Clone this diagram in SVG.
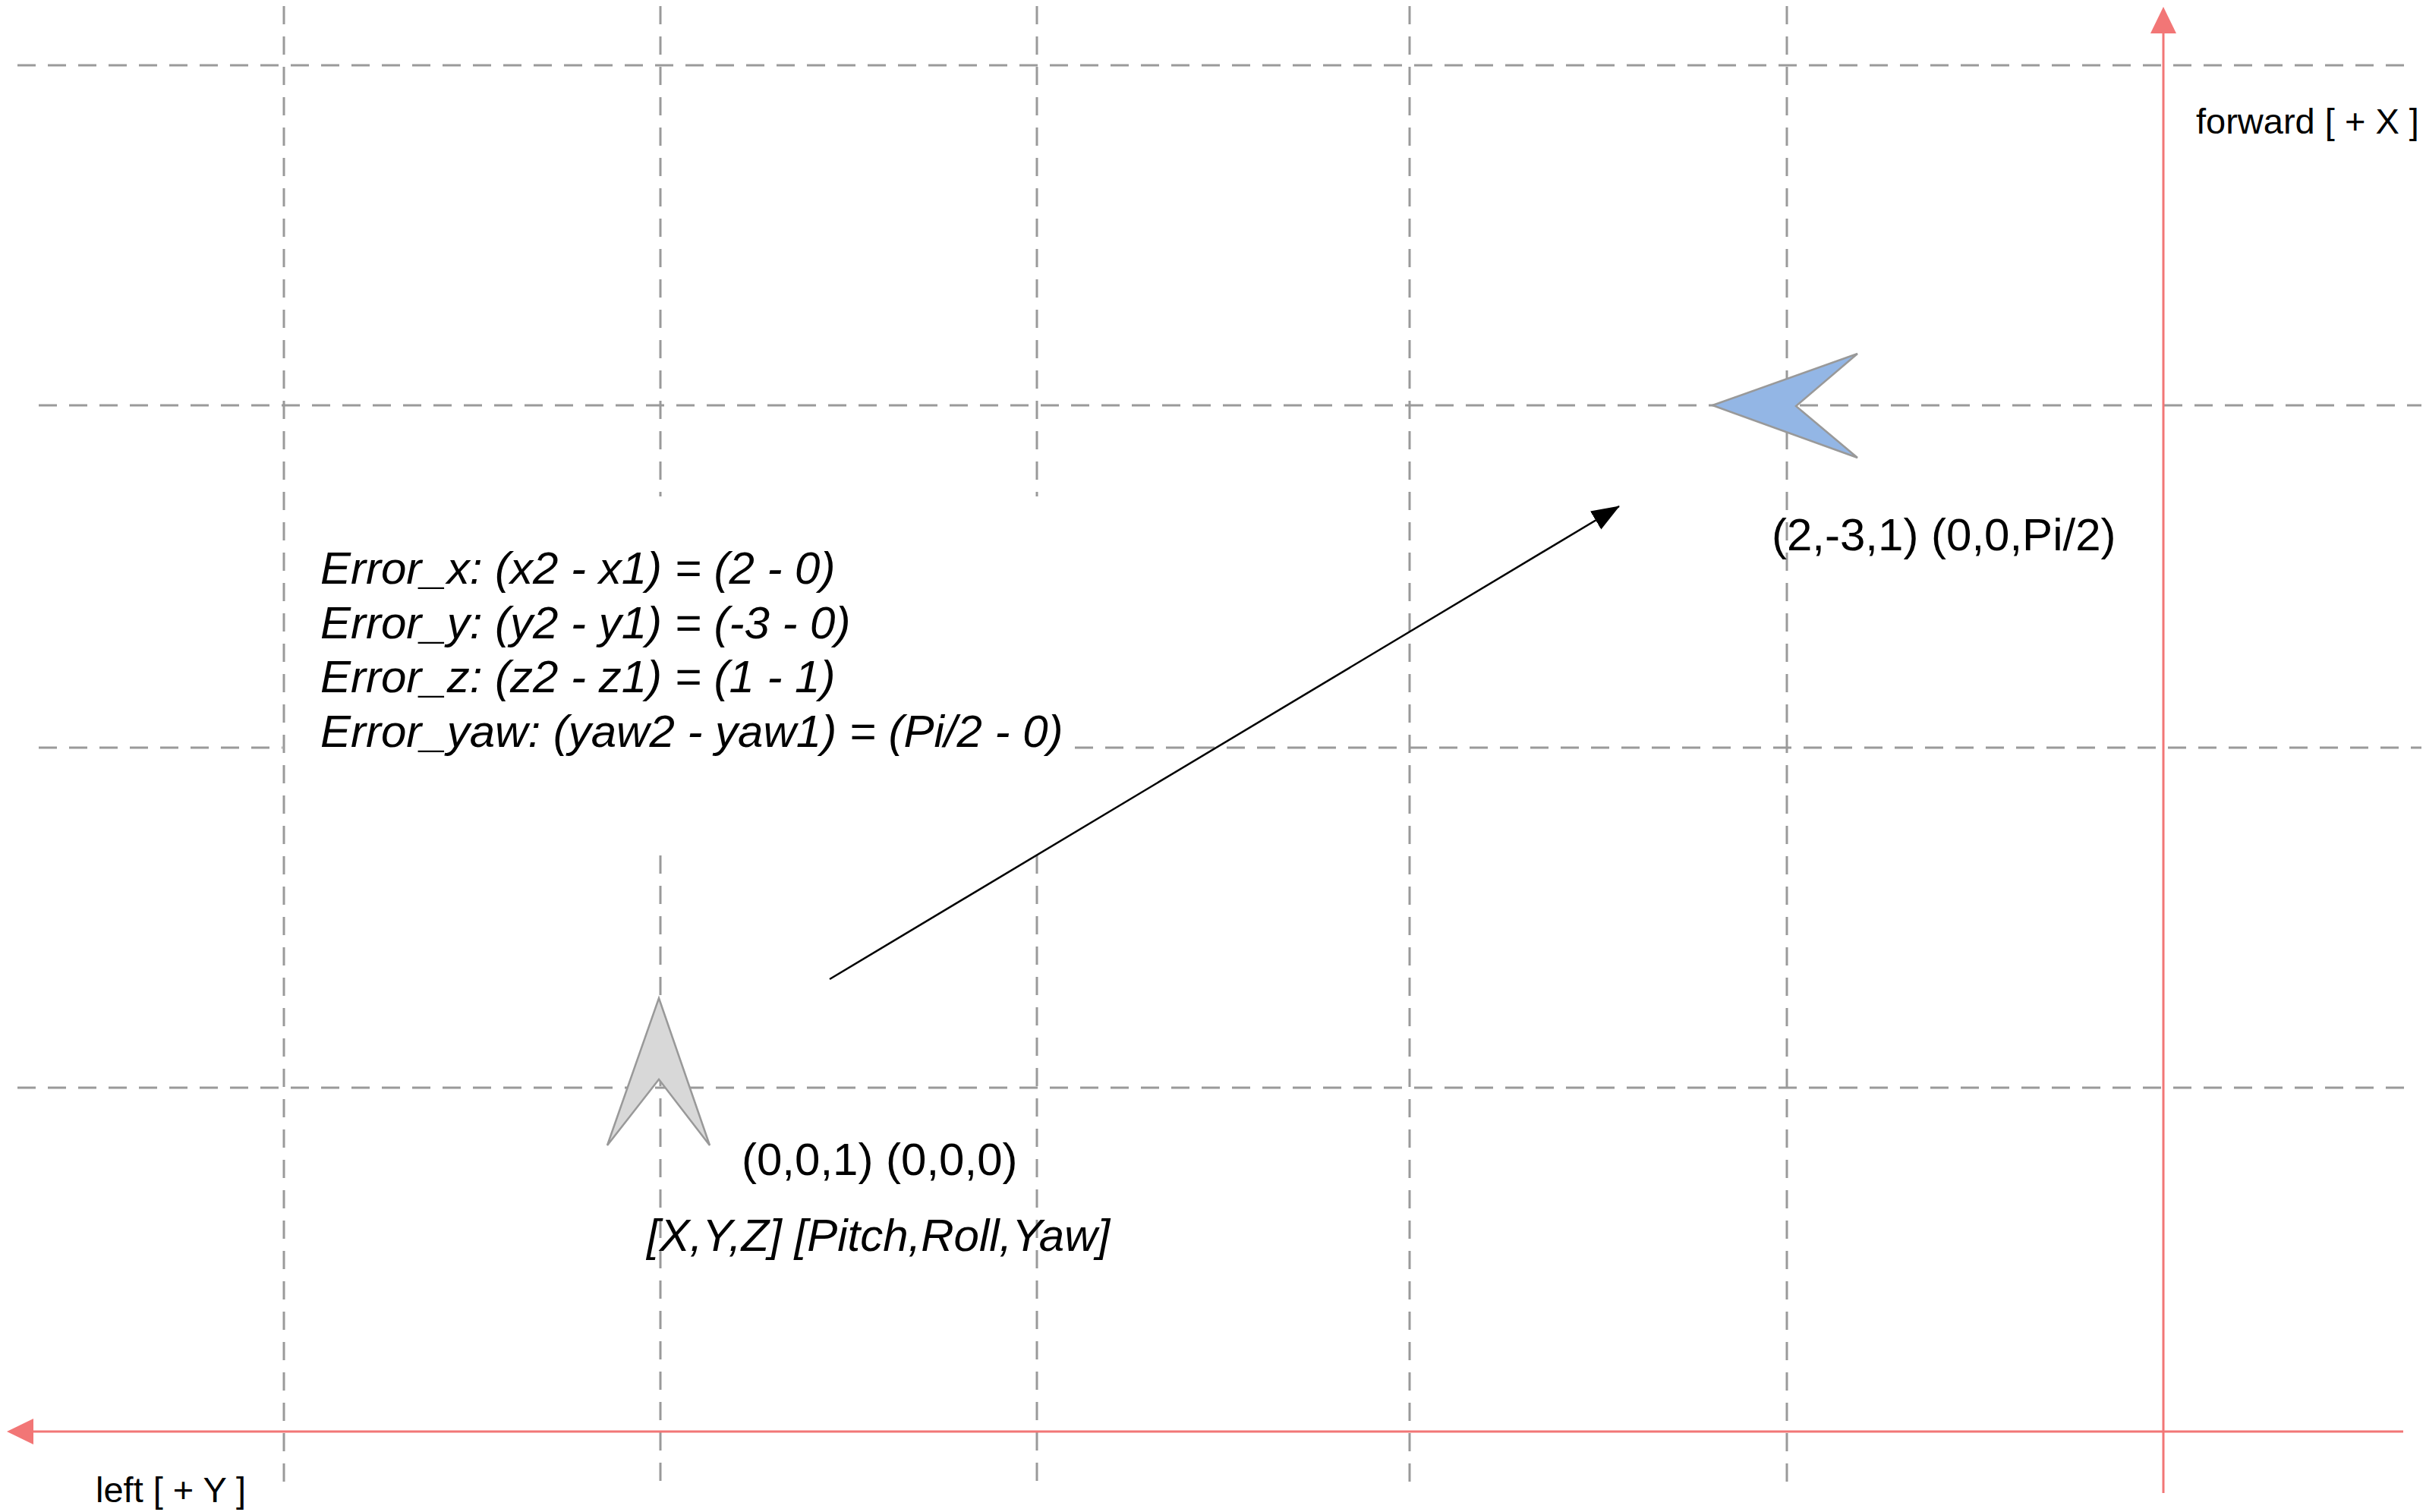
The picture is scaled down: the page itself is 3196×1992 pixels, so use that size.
<svg xmlns="http://www.w3.org/2000/svg" width="3196" height="1992" viewBox="0 0 3196 1992">
  <style>
    .grid { stroke: #9a9a9a; stroke-width: 3; stroke-dasharray: 24 16; fill: none; }
    .axis { stroke: #F27676; stroke-width: 3; fill: none; }
    .conn { stroke: #000; stroke-width: 2.5; fill: none; }
    .t { font-family: "Liberation Sans", Arial, Helvetica, sans-serif; fill: #000; }
    .lbl { font-size: 60px; }
    .ital { font-size: 60px; font-style: italic; }
    .ax { font-size: 47px; }
    .shape { stroke: #999; stroke-width: 2.5; stroke-linejoin: miter; }
  </style>
  <defs>
    <marker id="redHead" markerUnits="userSpaceOnUse" markerWidth="36" markerHeight="36" viewBox="0 0 36 36" refX="2" refY="18" orient="auto">
      <path d="M0,1 L35,18 L0,35 z" fill="#F27676"/>
    </marker>
    <marker id="blackHead" markerUnits="userSpaceOnUse" markerWidth="38" markerHeight="30" viewBox="0 0 38 30" refX="36" refY="15" orient="auto">
      <path d="M0,1 L37,15 L0,29 z" fill="#000"/>
    </marker>
  </defs>
  <rect width="3196" height="1992" fill="#fff"/>

  <g id="grid">
    <line class="grid" x1="23" y1="86" x2="3169" y2="86"/>
    <line class="grid" x1="51" y1="534" x2="3190" y2="534"/>
    <line class="grid" x1="51" y1="985" x2="372" y2="985"/>
    <line class="grid" x1="1416" y1="985" x2="3190" y2="985"/>
    <line class="grid" x1="23" y1="1433" x2="3169" y2="1433"/>

    <line class="grid" x1="374" y1="8" x2="374" y2="1953"/>
    <line class="grid" x1="870" y1="8" x2="870" y2="654"/>
    <line class="grid" x1="870" y1="1127" x2="870" y2="1953"/>
    <line class="grid" x1="1366" y1="8" x2="1366" y2="654"/>
    <line class="grid" x1="1366" y1="1127" x2="1366" y2="1953"/>
    <line class="grid" x1="1857" y1="8" x2="1857" y2="1953"/>
    <line class="grid" x1="2354" y1="8" x2="2354" y2="1953"/>
  </g>

  <g id="axes">
    <line class="axis" x1="2850" y1="1967" x2="2850" y2="42" marker-end="url(#redHead)"/>
    <line class="axis" x1="3166" y1="1886" x2="42" y2="1886" marker-end="url(#redHead)"/>
    <text class="t ax" x="2893" y="176">forward [ + X ]</text>
    <text class="t ax" x="126" y="1979">left [ + Y ]</text>
  </g>

  <g id="connectors">
    <line class="conn" x1="1093" y1="1290" x2="2133" y2="667" marker-end="url(#blackHead)"/>
  </g>

  <g id="robot-start">
    <polygon class="shape" fill="#D8D8D8" points="868,1315 935,1509 868,1422 800,1509"/>
    <text class="t lbl" x="977" y="1548">(0,0,1) (0,0,0)</text>
    <text class="t ital" x="852" y="1648">[X,Y,Z] [Pitch,Roll,Yaw]</text>
  </g>

  <g id="robot-goal">
    <polygon class="shape" fill="#93B6E5" points="2256,534 2447,466 2366,535 2447,603"/>
    <text class="t lbl" x="2334" y="725">(2,-3,1) (0,0,Pi/2)</text>
  </g>

  <g id="error-text">
    <text class="t ital" x="422" y="769">Error_x: (x2 - x1) = (2 - 0)</text>
    <text class="t ital" x="422" y="841">Error_y: (y2 - y1) = (-3 - 0)</text>
    <text class="t ital" x="422" y="912">Error_z: (z2 - z1) = (1 - 1)</text>
    <text class="t ital" x="422" y="984">Error_yaw: (yaw2 - yaw1) = (Pi/2 - 0)</text>
  </g>
</svg>
